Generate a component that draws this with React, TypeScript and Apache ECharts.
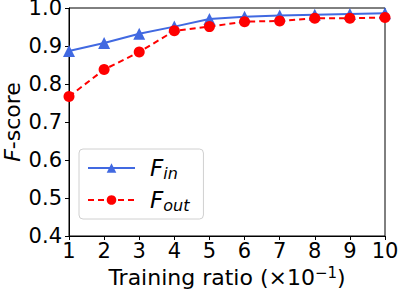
import React, { useEffect, useRef } from "react";
import * as echarts from "echarts";

const ratios = [1, 2, 3, 4, 5, 6, 7, 8, 9, 10];
const fIn = [0.887, 0.908, 0.932, 0.951, 0.971, 0.977, 0.98, 0.982, 0.984, 0.986];
const fOut = [0.767, 0.838, 0.884, 0.94, 0.951, 0.964, 0.966, 0.973, 0.973, 0.975];
const yTicks = [0.4, 0.5, 0.6, 0.7, 0.8, 0.9, 1.0];

const FONT = "DejaVu Sans";

export default function App() {
  const ref = useRef<HTMLDivElement>(null);
  useEffect(() => {
    if (!ref.current) return;
    const chart = echarts.init(ref.current, undefined, { renderer: "svg" });
    const axisLine = { show: true, lineStyle: { color: "#000", width: 1 } };
    chart.setOption({
      animation: false,
      textStyle: { fontFamily: FONT },
      grid: {
        left: 69,
        right: 14,
        top: 8,
        bottom: 56,
        containLabel: false,
        outerBoundsMode: "none",
        show: true,
        borderColor: "#000",
        borderWidth: 1,
        backgroundColor: "transparent",
      },
      xAxis: {
        type: "value",
        min: 1,
        max: 10,
        interval: 1,
        axisLine,
        axisTick: { show: true, inside: false, length: 4, lineStyle: { color: "#000" } },
        splitLine: { show: false },
        axisLabel: { color: "#000", fontSize: 21, fontFamily: FONT, margin: 4 },
        name: "Training ratio (×10{sup|−1})",
        nameLocation: "middle",
        nameGap: 29,
        nameMoveOverlap: false,
        nameTextStyle: {
          color: "#000",
          fontSize: 22,
          fontFamily: FONT,
          rich: {
            sup: { fontSize: 15, fontFamily: FONT, color: "#000", verticalAlign: "top", lineHeight: 24 },
          },
        },
      },
      yAxis: {
        type: "value",
        min: 0.4,
        max: 1.0,
        interval: 0.1,
        axisLine,
        axisTick: { show: true, inside: false, length: 4, lineStyle: { color: "#000" } },
        splitLine: { show: false },
        axisLabel: {
          color: "#000",
          fontSize: 21,
          fontFamily: FONT,
          margin: 7,
          formatter: (v: number) => {
            const t = yTicks.find((x) => Math.abs(x - v) < 1e-6);
            return (t ?? v).toFixed(1);
          },
        },
        name: "{i|F}-score",
        nameLocation: "middle",
        nameGap: 46,
        nameMoveOverlap: false,
        nameRotate: 90,
        nameTextStyle: {
          color: "#000",
          fontSize: 22,
          fontFamily: FONT,
          rich: {
            i: { fontStyle: "italic", fontSize: 22, fontFamily: FONT, color: "#000" },
          },
        },
      },
      legend: {
        orient: "vertical",
        left: 79,
        top: 149,
        padding: [6, 14, 6, 8],
        itemWidth: 47,
        itemHeight: 12,
        itemGap: 6,
        backgroundColor: "#fff",
        borderColor: "#d0d0d0",
        borderWidth: 1,
        borderRadius: 4,
        data: ["Fin", "Fout"],
        formatter: (name: string) =>
          name === "Fin" ? "{F|F}{s|in}" : "{F|F}{s|out}",
        textStyle: {
          color: "#000",
          fontFamily: FONT,
          padding: [0, 0, 0, 10],
          rich: {
            F: { fontStyle: "italic", fontSize: 23, fontFamily: FONT, color: "#000", lineHeight: 26, verticalAlign: "middle" },
            s: { fontStyle: "italic", fontSize: 16, fontFamily: FONT, color: "#000", lineHeight: 26, verticalAlign: "bottom", padding: [10, 0, 0, 0] },
          },
        },
      },
      series: [
        {
          name: "Fin",
          type: "line",
          data: ratios.map((r, i) => [r, fIn[i]]),
          symbol: "triangle",
          symbolSize: 12,
          lineStyle: { color: "#4169E1", width: 2 },
          itemStyle: { color: "#4169E1" },
        },
        {
          name: "Fout",
          type: "line",
          data: ratios.map((r, i) => [r, fOut[i]]),
          symbol: "circle",
          symbolSize: 11,
          lineStyle: { color: "#FF0000", width: 2, type: [6, 4] },
          itemStyle: { color: "#FF0000" },
        },
      ],
    });
    return () => chart.dispose();
  }, []);
  return <div ref={ref} style={{ position: "absolute", left: 0, top: 0, width: 399, height: 292 }} />;
}
